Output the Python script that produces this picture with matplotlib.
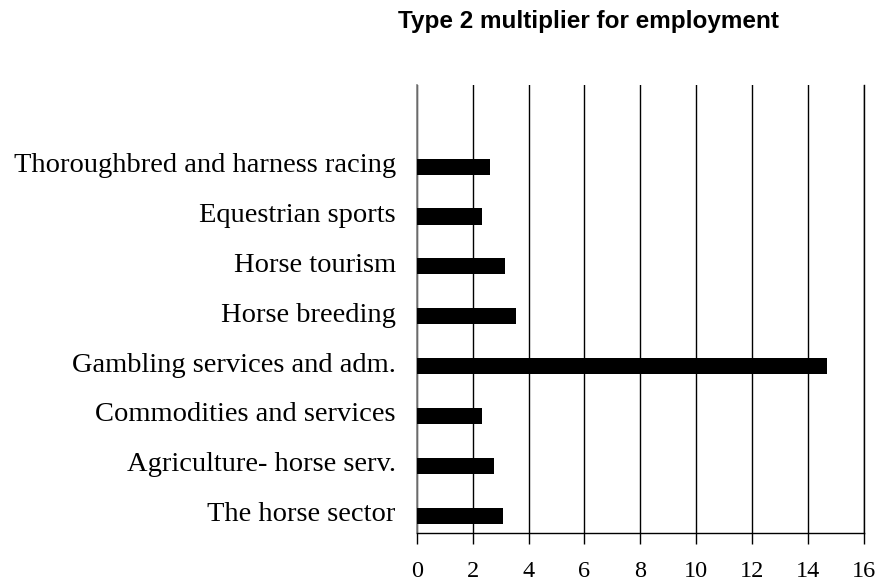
import matplotlib
matplotlib.use("Agg")
import matplotlib.pyplot as plt
import matplotlib.transforms as mtransforms
import numpy as np

categories = [
    "The horse sector",
    "Agriculture- horse serv.",
    "Commodities and services",
    "Gambling services and adm.",
    "Horse breeding",
    "Horse tourism",
    "Equestrian sports",
    "Thoroughbred and harness racing",
]
values = [3.08, 2.78, 2.32, 14.69, 3.54, 3.16, 2.32, 2.62]
xticks = [0, 2, 4, 6, 8, 10, 12, 14, 16]
title = "Type 2 multiplier for employment"

fig = plt.figure(figsize=(8.78, 5.85), dpi=100)
ax = fig.add_axes([416.7 / 878, 1 - 533.3 / 585, (864 - 416.7) / 878, (533.3 - 85) / 585])

y = np.arange(len(categories))
ax.barh(y, values, height=0.325, color="black", zorder=3)

ax.set_xlim(0, 16)
ax.set_ylim(-0.353, 8.637)
ax.set_xticks(xticks)
ax.set_xticklabels([str(t) for t in xticks], fontfamily="Liberation Serif", fontsize=17.5)
ax.tick_params(axis="x", direction="out", length=8, width=1, pad=12, color="black")
ax.set_yticks(y)
ax.set_yticklabels(categories, fontfamily="Liberation Serif", fontsize=20.5)
ax.tick_params(axis="y", length=0, pad=15)
offset = mtransforms.ScaledTranslation(0, 4 / 100, fig.dpi_scale_trans)
for lab in ax.get_yticklabels():
    lab.set_transform(lab.get_transform() + offset)

ax.grid(axis="x", color="black", linewidth=1, zorder=0)
ax.set_axisbelow(True)
ax.spines["top"].set_visible(False)
ax.spines["right"].set_color("black")
ax.spines["right"].set_linewidth(1)
ax.spines["left"].set_color("#808080")
ax.spines["left"].set_linewidth(1.2)
ax.spines["bottom"].set_color("black")
ax.spines["bottom"].set_linewidth(1)

fig.text(588 / 878, 1 - 28 / 585, title, ha="center", va="baseline",
         fontfamily="Liberation Sans", fontweight="bold", fontsize=17.5)

fig.savefig("out.png", dpi=100)
